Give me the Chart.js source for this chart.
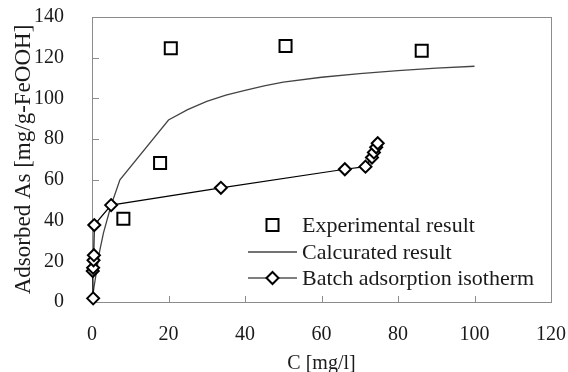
<!DOCTYPE html>
<html>
<head>
<meta charset="utf-8">
<script src="https://cdn.jsdelivr.net/npm/chart.js@4/dist/chart.umd.min.js"></script>
<style>
  html, body { margin: 0; padding: 0; background: #fff; }
  #wrap { width: 568px; height: 372px; }
</style>
</head>
<body>
<div id="wrap"><canvas id="chart"></canvas></div>
<script>
// ═══ Adsorption isotherm chart ═══
const expX = [20.6, 50.6, 86.2, 17.8, 8.2];
const expY = [124.6, 125.7, 123.4, 68.3, 40.9];

const calcX = [0, 0.5, 1, 2, 3, 5, 7.3, 20, 25, 30, 35, 40, 45, 50, 60, 70, 80, 90, 100];
const calcY = [0, 7, 13, 25, 34, 47.5, 60, 89.4, 94.5, 98.5, 101.6, 104, 106.2, 108, 110.4, 112.2, 113.7, 114.9, 115.8];

const batchX = [0.3, 0.2, 0.3, 0.4, 0.5, 0.6, 5.0, 33.7, 66.1, 71.5, 73.2, 73.7, 74.3, 74.7];
const batchY = [1.8, 15.2, 16.8, 20.5, 23, 37.8, 47.6, 56.1, 65.2, 66.5, 71, 73.5, 76, 78];

const xTicks = [0, 20, 40, 60, 80, 100, 120];
const yTicks = [0, 20, 40, 60, 80, 100, 120, 140];

const labels = ["Experimental result", "Calcurated result", "Batch adsorption isotherm"];

const pts = (xs, ys) => xs.map((x, i) => ({ x, y: ys[i] }));
const FONT = "'Liberation Serif', 'Times New Roman', serif";
const INK = "#1a1a1a";
const FRAME = "#8c8c8c";

// plot frame with inward tick marks (filled 1px bars)
function drawFrame(chart) {
  const { ctx } = chart;
  const xs = chart.scales.x, ys = chart.scales.y;
  const L = Math.round(xs.getPixelForValue(xTicks[0]));
  const R = Math.round(xs.getPixelForValue(xTicks[xTicks.length - 1]));
  const B = Math.round(ys.getPixelForValue(yTicks[0]));
  const T = Math.round(ys.getPixelForValue(yTicks[yTicks.length - 1]));
  ctx.save();
  ctx.globalAlpha = 1;
  ctx.fillStyle = FRAME;
  ctx.fillRect(L, T, R - L + 1, 1);
  ctx.fillRect(L, B, R - L + 1, 1);
  ctx.fillRect(L, T, 1, B - T + 1);
  ctx.fillRect(R, T, 1, B - T + 1);
  xTicks.slice(1, -1).forEach((v) => {
    const px = Math.round(xs.getPixelForValue(v));
    ctx.fillRect(px, B - 6, 1, 6);
  });
  yTicks.slice(1, -1).forEach((v) => {
    const py = Math.round(ys.getPixelForValue(v));
    ctx.fillRect(L, py, 7, 1);
  });
  ctx.restore();
}

// legend inside the plot, lower right
function drawLegend(chart) {
  const { ctx } = chart;
  const x0 = 248, x1 = 297, mx = 272.5, tx = 302;
  const rows = [225, 252, 278];
  ctx.save();
  ctx.font = `22px ${FONT}`;
  ctx.fillStyle = INK;
  ctx.textBaseline = "middle";
  ctx.textAlign = "left";
  rows.forEach((y, i) => ctx.fillText(labels[i], tx, y + 1));

  // square
  ctx.strokeStyle = "#000";
  ctx.lineWidth = 2;
  ctx.fillStyle = "#fff";
  ctx.fillRect(mx - 6, rows[0] - 6, 12, 12);
  ctx.strokeRect(mx - 6, rows[0] - 6, 12, 12);

  // calc line
  ctx.strokeStyle = "#444";
  ctx.lineWidth = 1.3;
  ctx.beginPath();
  ctx.moveTo(x0, rows[1]);
  ctx.lineTo(x1, rows[1]);
  ctx.stroke();

  // batch line + diamond
  ctx.strokeStyle = "#000";
  ctx.lineWidth = 1.2;
  ctx.beginPath();
  ctx.moveTo(x0, rows[2]);
  ctx.lineTo(x1, rows[2]);
  ctx.stroke();
  ctx.lineWidth = 2;
  ctx.beginPath();
  ctx.moveTo(mx - 6, rows[2]);
  ctx.lineTo(mx, rows[2] - 6);
  ctx.lineTo(mx + 6, rows[2]);
  ctx.lineTo(mx, rows[2] + 6);
  ctx.closePath();
  ctx.fill();
  ctx.stroke();
  ctx.restore();
}

const decorPlugin = {
  id: "decor",
  beforeDatasetsDraw(chart) { drawFrame(chart); },
  afterDraw(chart) { drawLegend(chart); },
};

new Chart(document.getElementById("chart"), {
  type: "scatter",
  data: {
    datasets: [
      {
        label: labels[0],
        data: pts(expX, expY),
        showLine: false,
        pointStyle: "rect",
        pointRadius: 8.5,
        pointBorderWidth: 2,
        pointBorderColor: "#000",
        pointBackgroundColor: "#fff",
        clip: false,
      },
      {
        label: labels[2],
        data: pts(batchX, batchY),
        showLine: true,
        borderColor: "#000",
        borderWidth: 1.2,
        pointStyle: "rectRot",
        pointRadius: 6,
        pointBorderWidth: 2,
        pointBorderColor: "#000",
        pointBackgroundColor: "#fff",
        tension: 0,
        clip: false,
      },
      {
        label: labels[1],
        data: pts(calcX, calcY),
        showLine: true,
        borderColor: "#444",
        borderWidth: 1.3,
        pointRadius: 0,
        tension: 0,
        clip: false,
      },
    ],
  },
  options: {
    responsive: true,
    maintainAspectRatio: false,
    animation: false,
    plugins: { legend: { display: false }, tooltip: { enabled: false } },
    scales: {
      x: {
        type: "linear",
        min: 0,
        max: 120,
        afterBuildTicks: (s) => { s.ticks = xTicks.map((v) => ({ value: v })); },
        afterFit: (s) => { s.height = 70; s.paddingLeft = 0; s.paddingRight = 17; },
        ticks: { color: INK, font: { family: FONT, size: 20 }, padding: 13, maxRotation: 0 },
        grid: { display: false },
        border: { display: false },
        title: { display: true, text: "C [mg/l]", color: INK, font: { family: FONT, size: 20 }, padding: { top: 0, bottom: -4 } },
      },
      y: {
        type: "linear",
        min: 0,
        max: 140,
        afterBuildTicks: (s) => { s.ticks = yTicks.map((v) => ({ value: v })); },
        afterFit: (s) => { s.width = 92; s.paddingTop = 17; s.paddingBottom = 0; },
        ticks: { color: INK, font: { family: FONT, size: 20 }, padding: 20 },
        grid: { display: false },
        border: { display: false },
        title: { display: true, text: "Adsorbed As [mg/g-FeOOH]", color: INK, font: { family: FONT, size: 23 }, padding: { top: 10, bottom: 0 } },
      },
    },
  },
  plugins: [decorPlugin],
});
</script>
</body>
</html>
